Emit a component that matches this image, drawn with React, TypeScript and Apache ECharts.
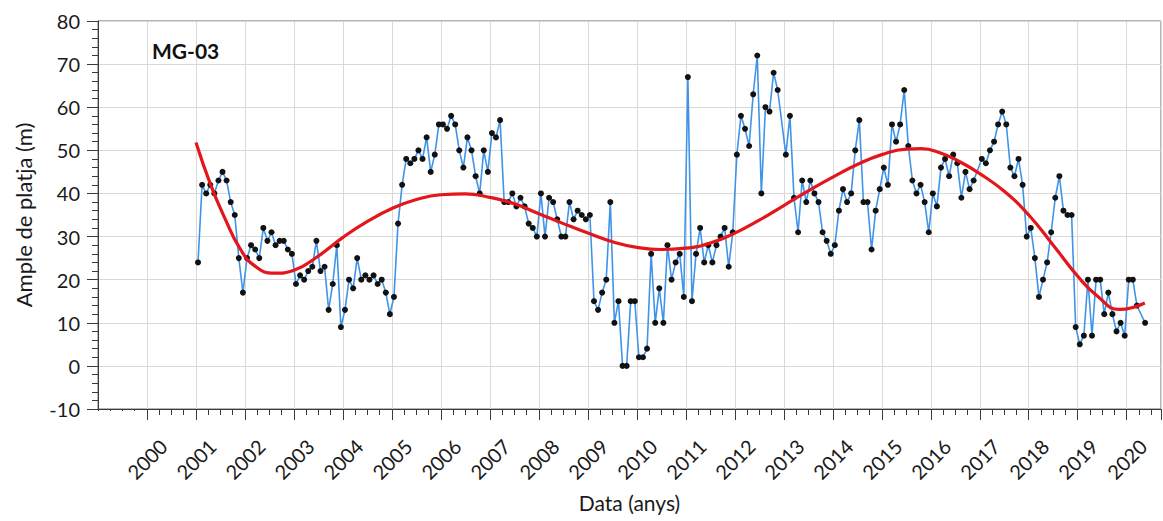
import React, { useEffect, useRef } from "react";
import * as echarts from "echarts";

// Monthly beach width (m), starting January 2001. null = no measurement.
const firstYear = 2001;
const widthMonthly: (number | null)[] = [
  // 2001
  24, 42, 40, 42, 40, 43, 45, 43, 38, 35, 25, 17,
  // 2002
  25, 28, 27, 25, 32, 29, 31, 28, 29, 29, 27, 26,
  // 2003
  19, 21, 20, 22, 23, 29, 22, 23, 13, 19, 28, 9,
  // 2004
  13, 20, 18, 25, 20, 21, 20, 21, 19, 20, 17, 12,
  // 2005
  16, 33, 42, 48, 47, 48, 50, 48, 53, 45, 49, 56,
  // 2006
  56, 55, 58, 56, 50, 46, 53, 50, 44, 40, 50, 45,
  // 2007
  54, 53, 57, 38, 38, 40, 37, 39, 37, 33, 32, 30,
  // 2008
  40, 30, 39, 38, 34, 30, 30, 38, 34, 36, 35, 34,
  // 2009
  35, 15, 13, 17, 20, 38, 10, 15, 0, 0, 15, 15,
  // 2010
  2, 2, 4, 26, 10, 18, 10, 28, 20, 24, 26, 16,
  // 2011
  67, 15, 26, 32, 24, 28, 24, 28, 30, 32, 23, 31,
  // 2012
  49, 58, 55, 51, 63, 72, 40, 60, 59, 68, 64, null,
  // 2013
  49, 58, 39, 31, 43, 38, 43, 40, 38, 31, 29, 26,
  // 2014
  28, 36, 41, 38, 40, 50, 57, 38, 38, 27, 36, 41,
  // 2015
  46, 42, 56, 52, 56, 64, 51, 43, 40, 42, 38, 31,
  // 2016
  40, 37, 46, 48, 44, 49, 47, 39, 45, 41, 43, null,
  // 2017
  48, 47, 50, 52, 56, 59, 56, 46, 44, 48, 42, 30,
  // 2018
  32, 25, 16, 20, 24, 31, 39, 44, 36, 35, 35, 9,
  // 2019
  5, 7, 20, 7, 20, 20, 12, 17, 12, 8, 10, 7,
  // 2020
  20, 20, 14, null, 10,
];

// Trend curve (red)
const trendYears = [
  2001.0, 2001.3, 2001.6, 2001.9, 2002.2, 2002.6, 2003.0, 2003.5, 2004.0, 2004.5,
  2005.0, 2005.5, 2006.0, 2006.5, 2007.0, 2007.5, 2008.0, 2008.5, 2009.0, 2009.5,
  2010.0, 2010.5, 2011.0, 2011.5, 2012.0, 2012.5, 2013.0, 2013.5, 2014.0, 2014.5,
  2015.0, 2015.5, 2015.8, 2016.2, 2016.6, 2017.0, 2017.5, 2018.0, 2018.5, 2019.0,
  2019.4, 2019.85, 2020.37,
];
const trendValues = [
  51.8, 42, 34, 27.2, 23.2, 21.5, 22.2, 25.5, 29.8, 33.5,
  36.5, 38.6, 39.7, 39.9, 39.1, 37.6, 35.3, 33, 30.8, 28.8,
  27.5, 27, 27.3, 28.5, 30.8, 33.8, 37.2, 40.6, 43.8, 46.7,
  49, 50.3, 50.4, 49.4, 47.3, 44.6, 40.5, 35, 28, 20.8,
  16.2, 13.1, 14.6,
];

const xMin = 1999;
const xMax = 2020.7;
const xLabelFirst = 2000;
const xLabelLast = 2020;
const yMin = -10;
const yMax = 80;
const yStep = 10;

const FONT = "Lato";

export default function App() {
  const ref = useRef<HTMLDivElement>(null);

  useEffect(() => {
    if (!ref.current) return;
    const chart = echarts.init(ref.current, undefined, { renderer: "svg" });

    const widthData = widthMonthly.map((v, i) => [
      firstYear + (i + 0.5) / 12,
      v === null ? null : v,
    ]);
    const trendData = trendYears.map((y, i) => [y, trendValues[i]]);

    chart.setOption({
      animation: false,
      backgroundColor: "#ffffff",
      grid: {
        left: 98,
        right: 2,
        top: 21,
        bottom: 112,
        show: true,
        borderColor: "#6b6b6b",
        borderWidth: 1,
        backgroundColor: "transparent",
      },
      graphic: [
        {
          type: "text",
          x: 152,
          y: 50,
          z: 100,
          style: {
            text: "MG-03",
            fontFamily: FONT,
            fontSize: 21,
            fontWeight: "bold",
            fill: "#111111",
            align: "left",
            verticalAlign: "middle",
          },
        },
        {
          type: "rect",
          z: 100,
          shape: { x: 95, y: 411, width: 51, height: 14 },
          style: { fill: "#ffffff" },
        },
      ],
      xAxis: {
        type: "value",
        min: xMin,
        max: xMax,
        interval: 1,
        name: "Data (anys)",
        nameLocation: "middle",
        nameGap: 83,
        nameTextStyle: { fontFamily: FONT, fontSize: 21, color: "#1a1a1a" },
        axisLine: { show: true, onZero: false, lineStyle: { color: "#3a3a3a", width: 1 } },
        axisTick: { show: true, length: 11, lineStyle: { color: "#3a3a3a" } },
        minorTick: { show: true, splitNumber: 4, length: 6, lineStyle: { color: "#3a3a3a" } },
        splitLine: { show: true, lineStyle: { color: "#d9d9d9", width: 1 } },
        axisLabel: {
          rotate: 45,
          margin: 50,
          align: "center",
          verticalAlign: "middle",
          fontFamily: FONT,
          fontSize: 20,
          color: "#1a1a1a",
          showMinLabel: false,
          showMaxLabel: false,
          formatter: (v: number) =>
            Number.isInteger(Math.round(v * 1000) / 1000) && v >= xLabelFirst && v <= xLabelLast
              ? String(Math.round(v))
              : "",
        },
      },
      yAxis: {
        type: "value",
        min: yMin,
        max: yMax,
        interval: yStep,
        name: "Ample de platja (m)",
        nameLocation: "middle",
        nameGap: 64,
        nameTextStyle: { fontFamily: FONT, fontSize: 22, color: "#1a1a1a" },
        axisLine: { show: true, lineStyle: { color: "#3a3a3a", width: 1 } },
        axisTick: { show: true, length: 11, lineStyle: { color: "#3a3a3a" } },
        minorTick: { show: true, splitNumber: 5, length: 6, lineStyle: { color: "#3a3a3a" } },
        splitLine: { show: true, lineStyle: { color: "#d9d9d9", width: 1 } },
        axisLabel: {
          margin: 18,
          fontFamily: FONT,
          fontSize: 20,
          color: "#1a1a1a",
        },
      },
      series: [
        {
          type: "line",
          name: "Ample",
          data: widthData,
          connectNulls: true,
          z: 2,
          lineStyle: { color: "#3f94ea", width: 1.6 },
          itemStyle: { color: "#111111", borderWidth: 0 },
          symbol: "circle",
          symbolSize: 6,
          showSymbol: true,
        },
        {
          type: "line",
          name: "Tendència",
          data: trendData,
          smooth: 0.5,
          z: 3,
          showSymbol: false,
          symbol: "none",
          lineStyle: { color: "#e3161c", width: 3.2 },
        },
      ],
    });

    return () => chart.dispose();
  }, []);

  return (
    <div
      ref={ref}
      style={{ position: "fixed", left: 0, top: 0, width: 1163, height: 521 }}
    />
  );
}
